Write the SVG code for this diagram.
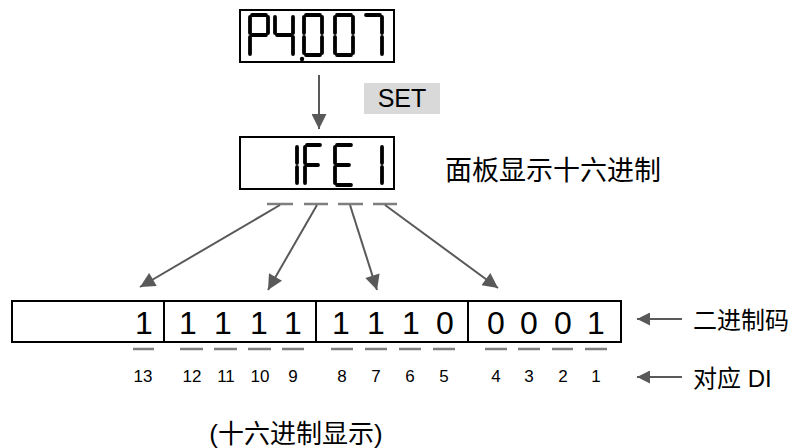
<svg xmlns="http://www.w3.org/2000/svg" width="800" height="448" viewBox="0 0 800 448">
<style>
.box{fill:#fff;stroke:#000;stroke-width:2}
.seg{stroke:#000;stroke-width:3.8;stroke-linecap:round;fill:none}
.con{stroke:#595959;stroke-width:2;fill:none}
.dash{stroke:#7f7f7f;stroke-width:2.5}
.dig{font-family:"Liberation Sans",Arial,sans-serif;font-size:32px;fill:#000;text-anchor:middle}
.num{font-family:"Liberation Sans",Arial,sans-serif;font-size:17px;fill:#000;text-anchor:middle}
.lbl{font-family:"Liberation Sans","Noto Sans CJK SC",sans-serif;font-size:24px;fill:#000}
</style>
<defs>
<marker id="ah" viewBox="0 0 10 10" refX="10" refY="5" markerWidth="17" markerHeight="15" markerUnits="userSpaceOnUse" orient="auto"><path d="M0,0 L10,5 L0,10 z" fill="#595959"/></marker>
<marker id="ah2" viewBox="0 0 10 10" refX="10" refY="5" markerWidth="14" markerHeight="13" markerUnits="userSpaceOnUse" orient="auto"><path d="M0,0 L10,5 L0,10 z" fill="#595959"/></marker>
</defs>

<g id="display-p4007">
<rect class="box" x="240" y="10" width="154" height="52"/>
<!-- P -->
<line class="seg" x1="252" y1="15" x2="266" y2="15"/>
<line class="seg" x1="268" y1="17" x2="268" y2="33"/>
<line class="seg" x1="250" y1="17" x2="250" y2="33"/>
<line class="seg" x1="252" y1="35" x2="266" y2="35"/>
<line class="seg" x1="250" y1="37" x2="250" y2="54"/>
<!-- 4 -->
<line class="seg" x1="275" y1="17" x2="275" y2="33"/>
<line class="seg" x1="277" y1="35" x2="291" y2="35"/>
<line class="seg" x1="293" y1="17" x2="293" y2="33"/>
<line class="seg" x1="293" y1="37" x2="293" y2="54"/>
<!-- dp -->
<circle cx="302" cy="59" r="2.2" fill="#000"/>
<!-- 0 -->
<line class="seg" x1="306" y1="15" x2="320" y2="15"/>
<line class="seg" x1="322" y1="17" x2="322" y2="33"/>
<line class="seg" x1="322" y1="37" x2="322" y2="53"/>
<line class="seg" x1="306" y1="55" x2="320" y2="55"/>
<line class="seg" x1="304" y1="37" x2="304" y2="53"/>
<line class="seg" x1="304" y1="17" x2="304" y2="33"/>
<!-- 0 -->
<line class="seg" x1="337" y1="15" x2="351" y2="15"/>
<line class="seg" x1="353" y1="17" x2="353" y2="33"/>
<line class="seg" x1="353" y1="37" x2="353" y2="53"/>
<line class="seg" x1="337" y1="55" x2="351" y2="55"/>
<line class="seg" x1="335" y1="37" x2="335" y2="53"/>
<line class="seg" x1="335" y1="17" x2="335" y2="33"/>
<!-- 7 -->
<line class="seg" x1="366" y1="15" x2="380" y2="15"/>
<line class="seg" x1="382" y1="17" x2="382" y2="33"/>
<line class="seg" x1="382" y1="37" x2="382" y2="54"/>
</g>

<g id="set-label">
<rect x="364" y="83" width="76" height="31" fill="#d9d9d9"/>
<text x="402" y="107" font-family="Liberation Sans, Arial, sans-serif" font-size="25" text-anchor="middle" fill="#000">SET</text>
</g>

<g id="display-1fe1">
<rect class="box" x="240" y="137" width="154" height="52"/>
<!-- 1 -->
<line class="seg" x1="297" y1="147" x2="297" y2="163"/>
<line class="seg" x1="297" y1="167" x2="297" y2="183"/>
<!-- F -->
<line class="seg" x1="307" y1="145" x2="320" y2="145"/>
<line class="seg" x1="305" y1="147" x2="305" y2="163"/>
<line class="seg" x1="307" y1="165" x2="318" y2="165"/>
<line class="seg" x1="305" y1="167" x2="305" y2="183"/>
<!-- E -->
<line class="seg" x1="337" y1="145" x2="351" y2="145"/>
<line class="seg" x1="335" y1="147" x2="335" y2="163"/>
<line class="seg" x1="337" y1="165" x2="349" y2="165"/>
<line class="seg" x1="335" y1="167" x2="335" y2="183"/>
<line class="seg" x1="337" y1="185" x2="351" y2="185"/>
<!-- 1 -->
<line class="seg" x1="382" y1="147" x2="382" y2="163"/>
<line class="seg" x1="382" y1="167" x2="382" y2="183"/>
</g>

<g id="panel-label">
<text class="lbl" x="445" y="180" style="font-size:27px">面板显示十六进制</text>
</g>

<g id="binary-row">
<rect class="box" x="12" y="301" width="609" height="41"/>
<line x1="164" y1="301" x2="164" y2="342" stroke="#000" stroke-width="2"/>
<line x1="316" y1="301" x2="316" y2="342" stroke="#000" stroke-width="2"/>
<line x1="468" y1="301" x2="468" y2="342" stroke="#000" stroke-width="2"/>
<text class="dig" x="144" y="334">1</text>
<text class="dig" x="188" y="334">1</text>
<text class="dig" x="223" y="334">1</text>
<text class="dig" x="259" y="334">1</text>
<text class="dig" x="293" y="334">1</text>
<text class="dig" x="341" y="334">1</text>
<text class="dig" x="376" y="334">1</text>
<text class="dig" x="411" y="334">1</text>
<text class="dig" x="445" y="334">0</text>
<text class="dig" x="496" y="334">0</text>
<text class="dig" x="529" y="334">0</text>
<text class="dig" x="563" y="334">0</text>
<text class="dig" x="596" y="334">1</text>
</g>

<g id="di-row">
<line class="dash" x1="133" y1="349" x2="154" y2="349"/>
<line class="dash" x1="180" y1="349" x2="203" y2="349"/>
<line class="dash" x1="214" y1="349" x2="237" y2="349"/>
<line class="dash" x1="248" y1="349" x2="271" y2="349"/>
<line class="dash" x1="282" y1="349" x2="304" y2="349"/>
<line class="dash" x1="331" y1="349" x2="353" y2="349"/>
<line class="dash" x1="365" y1="349" x2="387" y2="349"/>
<line class="dash" x1="399" y1="349" x2="421" y2="349"/>
<line class="dash" x1="433" y1="349" x2="455" y2="349"/>
<line class="dash" x1="485" y1="349" x2="507" y2="349"/>
<line class="dash" x1="518" y1="349" x2="540" y2="349"/>
<line class="dash" x1="552" y1="349" x2="573" y2="349"/>
<line class="dash" x1="585" y1="349" x2="607" y2="349"/>
<text class="num" x="143" y="382">13</text>
<text class="num" x="192" y="382">12</text>
<text class="num" x="226" y="382">11</text>
<text class="num" x="260" y="382">10</text>
<text class="num" x="293" y="382">9</text>
<text class="num" x="342" y="382">8</text>
<text class="num" x="376" y="382">7</text>
<text class="num" x="410" y="382">6</text>
<text class="num" x="444" y="382">5</text>
<text class="num" x="496" y="382">4</text>
<text class="num" x="529" y="382">3</text>
<text class="num" x="563" y="382">2</text>
<text class="num" x="596" y="382">1</text>
</g>

<g id="hex-dashes">
<line class="dash" x1="267" y1="204" x2="293" y2="204"/>
<line class="dash" x1="304" y1="204" x2="328" y2="204"/>
<line class="dash" x1="338" y1="204" x2="363" y2="204"/>
<line class="dash" x1="373" y1="204" x2="397" y2="204"/>
</g>

<g id="connectors">
<line class="con" x1="319" y1="75" x2="319" y2="129" marker-end="url(#ah)"/>
<line class="con" x1="280" y1="205" x2="140" y2="287" marker-end="url(#ah)"/>
<line class="con" x1="317" y1="205" x2="268" y2="290" marker-end="url(#ah)"/>
<line class="con" x1="350" y1="205" x2="377" y2="290" marker-end="url(#ah)"/>
<line class="con" x1="385" y1="205" x2="498" y2="288" marker-end="url(#ah)"/>
<line class="con" x1="682" y1="319" x2="637" y2="319" marker-end="url(#ah2)"/>
<line class="con" x1="682" y1="377" x2="637" y2="377" marker-end="url(#ah2)"/>
</g>

<g id="right-labels">
<text class="lbl" x="693" y="329">二进制码</text>
<text class="lbl" x="693" y="387">对应 DI</text>
</g>

<g id="bottom-label">
<text class="lbl" x="296" y="443" style="font-size:26px" text-anchor="middle">(十六进制显示)</text>
</g>
</svg>
